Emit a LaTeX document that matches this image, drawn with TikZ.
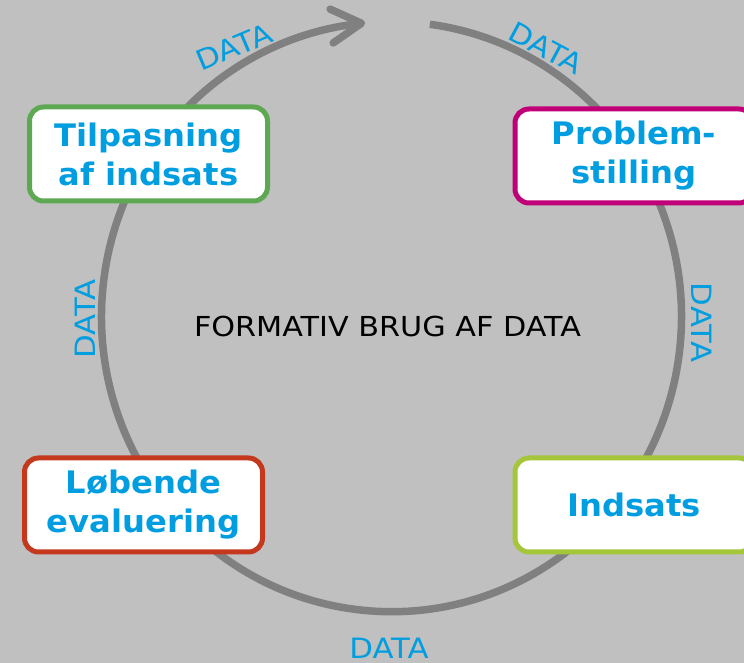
\documentclass[tikz,border=0pt]{standalone}
\usepackage{fontspec}
\setmainfont{DejaVu Sans}
\newfontfamily\widesans[FakeStretch=1.1]{DejaVu Sans}
\newfontfamily\boxsans[FakeStretch=1.04]{DejaVu Sans}
\usetikzlibrary{arrows.meta,bending}
\definecolor{bg}{RGB}{192,192,192}
\definecolor{ringgray}{RGB}{128,128,128}
\definecolor{datablue}{RGB}{0,158,224}
\definecolor{cgreen}{RGB}{94,168,83}
\definecolor{cmag}{RGB}{192,0,118}
\definecolor{cred}{RGB}{196,57,30}
\definecolor{clime}{RGB}{165,198,59}
\begin{document}
\begin{tikzpicture}[x=1pt,y=1pt,
  stagebox/.style={draw, fill=white, line width=5pt, rounded corners=14pt,
    minimum width=238pt, minimum height=94pt, align=center, text=datablue,
    font=\boxsans\fontsize{31}{39}\selectfont\bfseries, inner sep=0pt},
  datalabel/.style={text=datablue, font=\widesans\fontsize{28}{28}\selectfont, inner sep=0pt},
  ringline/.style={draw=ringgray, line width=7.5pt}]
\fill[bg] (0,0) rectangle (744,663);
\useasboundingbox (0,0) rectangle (744,663);
\coordinate (ctr) at (391.5,346.3);
\draw[ringline, -{Straight Barb[length=30pt, width=34pt, line cap=round, line join=round]}]
  ([shift={(82.4:290 and 295)}]ctr) arc[start angle=82.4, end angle=-264.8, x radius=290, y radius=295];
\node[stagebox, draw=cgreen] (tilp) at (148.5,509) {Tilpasning\\af indsats};
\node[stagebox, draw=cmag] (prob) at (634,507) {Problem-\\stilling};
\node[stagebox, draw=cred] (lob) at (143.5,158) {Løbende\\evaluering};
\node[stagebox, draw=clime] (inds) at (634,158) {Indsats};
\node[font=\widesans\fontsize{27.5}{27.5}\selectfont, inner sep=0pt] (title) at (387.5,336.3) {FORMATIV BRUG AF DATA};
\node[datalabel, rotate=23] (d1) at (234,616) {DATA};
\node[datalabel, rotate=-28] (d2) at (546,615) {DATA};
\node[datalabel, rotate=-90] (d3) at (702,340.5) {DATA};
\node[datalabel, rotate=90] (d4) at (85,344) {DATA};
\node[datalabel] (d5) at (389,15) {DATA};
\end{tikzpicture}
\end{document}
